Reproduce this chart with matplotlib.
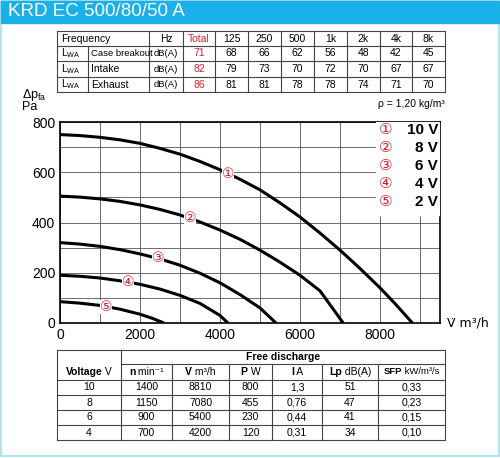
import matplotlib
matplotlib.use("Agg")
import matplotlib.pyplot as plt
import numpy as np

plt.rcParams['font.family'] = ['Liberation Sans', 'DejaVu Sans']

title = "KRD EC 500/80/50 A"
freq_header = ["Frequency", "", "Hz", "Total", "125", "250", "500", "1k", "2k", "4k", "8k"]
sound_rows = [
    ["Case breakout", "dB(A)", "71", "68", "66", "62", "56", "48", "42", "45"],
    ["Intake", "dB(A)", "82", "79", "73", "70", "72", "70", "67", "67"],
    ["Exhaust", "dB(A)", "86", "81", "81", "78", "78", "74", "71", "70"],
]
volt_labels = ["10 V", "8 V", "6 V", "4 V", "2 V"]
markers = ["①", "②", "③", "④", "⑤"]
curve_x = [
    [0, 500, 1000, 1500, 2000, 2500, 3000, 3500, 4000, 4500, 5000, 5500, 6000, 6500, 7000, 7500, 8000, 8400, 8810],
    [0, 500, 1000, 1500, 2000, 2500, 3000, 3500, 4000, 4500, 5000, 5500, 6000, 6500, 7080],
    [0, 500, 1000, 1500, 2000, 2500, 3000, 3500, 4000, 4500, 5000, 5400],
    [0, 500, 1000, 1500, 2000, 2500, 3000, 3500, 4000, 4200],
    [0, 500, 1000, 1500, 2000, 2300, 2600],
]
curve_y = [
    [750, 746, 739, 729, 715, 695, 672, 643, 610, 572, 530, 478, 422, 358, 290, 217, 140, 73, 0],
    [505, 501, 494, 484, 470, 452, 430, 402, 370, 333, 290, 242, 190, 128, 0],
    [320, 314, 305, 292, 275, 255, 230, 198, 160, 113, 60, 0],
    [190, 186, 179, 168, 154, 135, 110, 78, 30, 0],
    [85, 79, 70, 55, 35, 19, 0],
]
marker_x = [4200, 3250, 2450, 1700, 1150]
bottom_header = [("Voltage", " V"), ("n", " min⁻¹"), ("V̇", " m³/h"), ("P", " W"), ("I", " A"), ("Lp", " dB(A)"), ("SFP", " kW/m³/s")]
bottom_rows = [
    ["10", "1400", "8810", "800", "1,3", "51", "0,33"],
    ["8", "1150", "7080", "455", "0,76", "47", "0,23"],
    ["6", "900", "5400", "230", "0,44", "41", "0,15"],
    ["4", "700", "4200", "120", "0,31", "34", "0,10"],
]

W, H = 500, 458
fig = plt.figure(figsize=(5, 4.58), dpi=100)
ov = fig.add_axes([0, 0, 1, 1])
ov.set_xlim(0, W); ov.set_ylim(H, 0); ov.axis('off')
blue = '#1ab0e8'
ov.add_patch(plt.Rectangle((1, 1), 498, 455, fill=False, ec='#a8dcef', lw=1.2))
ov.add_patch(plt.Rectangle((1, 1), 498, 22, color=blue))
ov.text(8, 12, title, color='white', fontsize=13.5, va='center')

def hl(y, x0, x1): ov.plot([x0, x1], [y, y], color='#444', lw=0.8)
def vl(x, y0, y1): ov.plot([x, x], [y0, y1], color='#444', lw=0.8)

cx = [57, 88, 149, 183, 215, 248, 281, 314, 347, 380, 412, 445]
ry = [31, 46, 61, 77, 92]
for y in ry: hl(y, 57, 445)
for i, x in enumerate(cx):
    vl(x, 46 if i == 1 else 31, 92)
fs = 7.5
ov.text(61, 38.5, "Frequency", fontsize=fs, va='center')
for j in range(2, 11):
    ov.text((cx[j] + cx[j+1]) / 2, 38.5, freq_header[j], fontsize=fs, va='center', ha='center',
            color='#d0202e' if j == 3 else 'black')
for r, row in enumerate(sound_rows):
    yc = (ry[r+1] + ry[r+2]) / 2
    ov.text(61, yc, r"L$_{\mathregular{WA}}$", fontsize=fs, va='center')
    ov.text(91, yc, row[0], fontsize=6.8 if r == 0 else fs, va='center')
    for k, v in enumerate(row[1:]):
        j = k + 2
        ov.text((cx[j] + cx[j+1]) / 2, yc, v, fontsize=6.8 if j == 2 else fs, va='center', ha='center',
                color='#d0202e' if j == 3 else 'black')

ax = fig.add_axes([60/W, 1-323/H, 380/W, 201/H])
for xs, ys in zip(curve_x, curve_y):
    ax.plot(xs, ys, color='black', lw=2.2, solid_capstyle='butt')
for k, (xs, ys) in enumerate(zip(curve_x, curve_y)):
    my = np.interp(marker_x[k], xs, ys)
    ax.text(marker_x[k], my, markers[k], color='#d0202e', fontsize=10, ha='center', va='center',
            family=['DejaVu Sans'], bbox=dict(fc='white', ec='none', pad=0), zorder=5)
ax.set_xlim(0, 9500); ax.set_ylim(0, 800)
ax.set_xticks([0, 2000, 4000, 6000, 8000])
ax.set_xticks(np.arange(0, 9501, 1000), minor=True)
ax.set_yticks([0, 200, 400, 600, 800])
ax.set_yticks(np.arange(0, 801, 100), minor=True)
ax.grid(True, which='both', color='#555', lw=0.6)
ax.tick_params(length=0, which='both', labelsize=10)
for s in ax.spines.values(): s.set_linewidth(1.2)
ax.add_patch(plt.Rectangle((7900, 430), 1600, 370, color='white', zorder=3))
for k in range(5):
    y = 770 - k * 72
    ax.text(8150, y, markers[k], color='#d0202e', fontsize=11, ha='center', va='center', zorder=4,
            family=['DejaVu Sans'])
    ax.text(9450, y, volt_labels[k], fontsize=11, fontweight='bold', ha='right', va='center', zorder=4)
ov.text(22, 95, "Δp$_{\\mathregular{fa}}$", fontsize=9, va='center')
ov.text(22, 107, "Pa", fontsize=9, va='center')
ov.text(445, 104, "ρ = 1,20 kg/m³", fontsize=7.5, ha='right', va='center')
ov.text(447, 323, "V̇ m³/h", fontsize=9, va='center', family=['DejaVu Sans'])

bx = [57, 121, 172, 229, 272, 322, 378, 445]
by = [350, 364, 380, 395, 410, 425, 440]
hl(350, 57, 445); hl(364, 121, 445)
for y in by[2:]: hl(y, 57, 445)
for i, x in enumerate(bx):
    vl(x, 350 if i in (0, 1, 7) else 364, 440)
ov.text((121 + 445) / 2, 357, "Free discharge", fontsize=fs, fontweight='bold', ha='center', va='center')
fig.canvas.draw()
inv = ov.transData.inverted()
for j, (b, r) in enumerate(bottom_header):
    hfs = 6.8 if j == 6 else fs
    tb = ov.text(0, 372, b, fontsize=hfs, fontweight='bold', ha='left', va='center')
    tr = ov.text(0, 372, r, fontsize=hfs, ha='left', va='center')
    fig.canvas.draw()
    wb = tb.get_window_extent().transformed(inv).width
    wr = tr.get_window_extent().transformed(inv).width
    x0 = (bx[j] + bx[j+1]) / 2 - (wb + wr) / 2
    tb.set_x(x0); tr.set_x(x0 + wb)
for r, row in enumerate(bottom_rows):
    yc = (by[r+2] + by[r+3]) / 2
    for j, v in enumerate(row):
        ov.text((bx[j] + bx[j+1]) / 2, yc, v, fontsize=fs, ha='center', va='center')

fig.savefig("out.png", dpi=100)
